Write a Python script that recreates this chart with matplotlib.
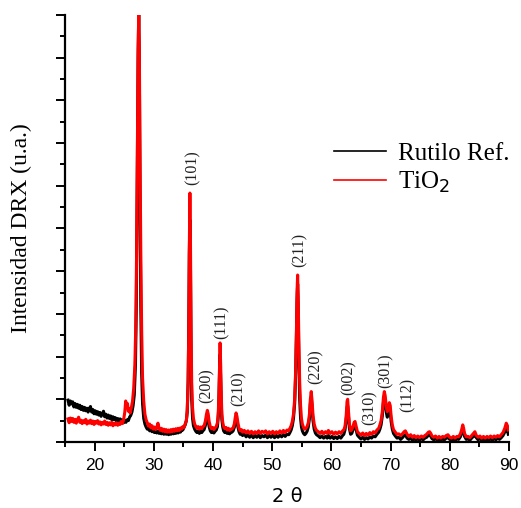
import matplotlib
matplotlib.use('Agg')
import matplotlib.pyplot as plt
from matplotlib.ticker import MultipleLocator, NullFormatter

rutilo_ref = [
    (15.5,9.8),(15.7,8.6),(15.9,9.6),(16.1,8.9),(16.3,9.4),(16.5,8.2),(16.7,9.0),(16.9,8.1),
    (17.1,8.8),(17.3,7.9),(17.5,8.6),(17.7,7.6),(17.9,8.3),(18.1,7.4),(18.3,8.1),(18.5,7.3),
    (18.7,7.9),(18.9,7.0),(19.1,7.8),(19.3,8.3),(19.5,7.0),(19.7,7.6),(19.9,6.6),(20.1,7.3),
    (20.3,6.5),(20.5,7.1),(20.7,6.3),(20.9,6.9),(21.1,6.0),(21.3,6.6),(21.5,7.2),(21.7,5.9),
    (21.9,6.5),(22.1,5.6),(22.3,6.3),(22.5,5.5),(22.7,6.1),(22.9,5.2),(23.1,5.9),(23.3,5.2),
    (23.5,5.7),(23.7,4.9),(23.9,5.5),(24.1,4.8),(24.3,5.4),(24.5,4.6),(24.7,5.2),(24.9,4.5),
    (25.1,5.1),(25.3,4.6),(25.5,5.2),(25.7,5.0),(25.9,5.8),(26.1,6.2),(26.3,7.0),(26.5,8.5),
    (26.7,11),(26.9,18),(27.05,32),(27.2,60),(27.35,90),(27.45,100),(27.55,90),(27.65,62),
    (27.8,32),(27.95,16),(28.1,9),(28.3,5.5),(28.5,4.2),(28.7,3.5),(28.9,3.0),(29.1,3.3),
    (29.3,2.6),(29.5,3.0),(29.7,2.4),(29.9,2.8),(30.1,2.2),(30.3,2.7),(30.5,2.1),(30.7,2.6),
    (30.9,2.0),(31.1,2.5),(31.3,1.9),(31.5,2.4),(31.7,1.8),(31.9,2.3),(32.1,1.8),(32.3,2.3),
    (32.5,1.7),(32.7,2.2),(32.9,1.8),(33.1,2.3),(33.3,1.9),(33.5,2.4),(33.7,2.0),(33.9,2.5),
    (34.1,2.1),(34.3,2.6),(34.5,2.3),(34.7,2.8),(34.9,2.8),(35.1,3.4),(35.3,4.0),(35.5,5.0),
    (35.65,7),(35.8,14),(35.9,26),(36.0,44),(36.1,52),(36.2,40),(36.3,20),(36.4,10),
    (36.55,5.5),(36.7,3.8),(36.9,3.0),(37.1,2.5),(37.3,2.2),(37.5,2.6),(37.7,2.0),(37.9,2.5),
    (38.1,2.2),(38.3,2.6),(38.5,2.9),(38.7,3.8),(38.9,5.2),(39.05,5.9),(39.2,5.0),(39.35,3.6),
    (39.55,2.6),(39.75,2.2),(39.95,2.5),(40.15,2.1),(40.35,2.5),(40.55,2.8),(40.75,3.6),(40.9,6),
    (41.0,10),(41.1,16),(41.2,20.5),(41.3,15),(41.4,9),(41.5,5.2),(41.65,3.5),(41.8,2.6),
    (42.0,2.2),(42.2,2.5),(42.4,2.0),(42.6,2.3),(42.8,1.9),(43.0,2.2),(43.2,2.3),(43.4,2.6),
    (43.6,3.4),(43.75,4.6),(43.9,5.5),(44.05,4.9),(44.2,3.6),(44.4,2.4),(44.6,1.8),(44.8,2.1),
    (45.0,1.5),(45.3,1.9),(45.6,1.2),(45.9,1.7),(46.2,1.1),(46.5,1.6),(46.8,1.0),(47.1,1.5),
    (47.4,1.1),(47.7,1.6),(48.0,1.0),(48.3,1.5),(48.6,1.2),(48.9,1.6),(49.2,1.0),(49.5,1.5),
    (49.8,1.1),(50.1,1.6),(50.4,1.0),(50.7,1.5),(51.0,1.1),(51.3,1.6),(51.6,1.2),(51.9,1.7),
    (52.2,1.3),(52.5,1.8),(52.8,1.7),(53.0,2.2),(53.2,2.8),(53.4,3.8),(53.6,5.5),(53.8,9),
    (53.95,15),(54.1,25),(54.2,33),(54.3,37),(54.4,31),(54.5,20),(54.65,10),(54.8,5.5),
    (54.95,3.5),(55.1,2.6),(55.3,2.0),(55.5,1.7),(55.7,2.0),(55.9,2.5),(56.1,3.5),(56.3,5.5),
    (56.45,9),(56.6,10.5),(56.75,8),(56.9,5),(57.1,3.0),(57.3,2.1),(57.5,1.7),(57.8,1.4),
    (58.1,1.0),(58.4,1.4),(58.7,0.9),(59.0,1.3),(59.3,0.9),(59.5,1.5),(59.8,0.9),(60.1,1.3),
    (60.4,0.8),(60.7,1.2),(61.0,0.8),(61.3,1.3),(61.6,0.9),(61.9,1.5),(62.1,1.8),(62.3,2.8),
    (62.5,5.0),(62.65,8.0),(62.75,8.5),(62.9,6.0),(63.05,3.2),(63.25,1.8),(63.45,2.0),(63.65,2.8),
    (63.85,3.8),(64.0,4.0),(64.2,2.8),(64.4,1.6),(64.7,1.1),(65.0,0.7),(65.3,1.1),(65.6,0.6),
    (65.9,1.0),(66.2,0.7),(66.5,1.2),(66.8,0.9),(67.1,1.4),(67.4,1.2),(67.7,1.8),(68.0,2.3),
    (68.2,3.0),(68.4,4.0),(68.6,6.0),(68.8,9.2),(68.95,10.5),(69.1,9.5),(69.3,6.8),(69.45,5.8),
    (69.6,6.5),(69.8,8.0),(69.95,7.2),(70.1,4.8),(70.3,3.0),(70.5,2.0),(70.8,1.4),(71.1,0.9),
    (71.4,1.1),(71.7,0.6),(72.0,1.0),(72.3,1.5),(72.5,1.7),(72.8,0.9),(73.1,0.6),(73.4,0.9),
    (73.7,0.4),(74.0,0.8),(74.3,0.4),(74.6,0.8),(74.9,0.4),(75.2,0.8),(75.5,0.5),(75.8,0.9),
    (76.1,1.1),(76.4,1.6),(76.6,1.8),(76.8,1.3),(77.0,0.8),(77.3,0.5),(77.6,0.8),(77.9,0.4),
    (78.2,0.7),(78.5,0.4),(78.8,0.7),(79.1,0.5),(79.4,0.9),(79.7,1.0),(80.0,0.6),(80.3,0.4),
    (80.6,0.7),(80.9,0.4),(81.2,0.7),(81.5,0.6),(81.8,1.2),(82.0,2.0),(82.2,3.0),(82.35,2.4),
    (82.5,1.3),(82.8,0.6),(83.1,0.7),(83.4,0.4),(83.7,0.9),(84.0,1.3),(84.25,1.7),(84.5,1.0),
    (84.8,0.5),(85.1,0.8),(85.4,0.4),(85.7,0.7),(86.0,0.4),(86.3,0.7),(86.6,0.4),(86.9,0.8),
    (87.2,0.4),(87.5,0.8),(87.8,0.5),(88.1,0.9),(88.4,0.6),(88.7,1.0),(89.0,1.5),(89.3,2.3),
    (89.55,3.0),(89.75,2.6),(89.9,1.8),
]

tio2 = [
    (15.5,5.4),(15.7,4.5),(15.9,5.6),(16.1,4.8),(16.3,5.5),(16.5,4.6),(16.7,5.3),(16.9,4.4),
    (17.1,5.2),(17.3,5.8),(17.5,4.6),(17.7,5.1),(17.9,4.3),(18.1,5.0),(18.3,4.5),(18.5,5.3),
    (18.7,4.2),(18.9,4.9),(19.1,4.4),(19.3,5.1),(19.5,4.3),(19.7,4.9),(19.9,4.1),(20.1,4.8),
    (20.3,4.4),(20.5,5.0),(20.7,4.2),(20.9,4.7),(21.1,4.0),(21.3,4.6),(21.5,4.2),(21.7,4.9),
    (21.9,4.1),(22.1,4.6),(22.3,3.9),(22.5,4.5),(22.7,4.0),(22.9,4.6),(23.1,3.8),(23.3,4.4),
    (23.5,4.0),(23.7,4.5),(23.9,3.9),(24.1,4.4),(24.3,4.1),(24.5,4.8),(24.7,4.3),(24.9,5.2),
    (25.1,7.0),(25.25,9.6),(25.4,8.4),(25.55,9.0),(25.7,7.2),(25.85,7.8),(26.0,6.8),(26.2,8.0),
    (26.4,9.5),(26.6,12.5),(26.8,18),(26.95,27),(27.1,45),(27.25,72),(27.35,92),(27.45,100),
    (27.55,93),(27.65,72),(27.8,45),(27.95,26),(28.1,15),(28.3,9.5),(28.5,6.5),(28.7,5.2),
    (28.9,4.5),(29.1,3.7),(29.3,4.2),(29.5,3.3),(29.7,3.8),(29.9,3.0),(30.1,3.5),(30.3,2.9),
    (30.5,3.4),(30.7,4.4),(30.9,3.2),(31.1,2.7),(31.3,3.2),(31.5,2.5),(31.7,3.0),(31.9,2.4),
    (32.1,2.9),(32.3,2.3),(32.5,2.8),(32.7,2.3),(32.9,2.9),(33.1,2.4),(33.3,3.0),(33.5,2.5),
    (33.7,3.1),(33.9,2.6),(34.1,3.2),(34.3,2.7),(34.5,3.3),(34.7,3.0),(34.9,3.6),(35.1,3.4),
    (35.3,4.2),(35.5,5.0),(35.65,7.5),(35.8,14),(35.9,25),(36.0,45),(36.1,58.3),(36.2,46),
    (36.3,26),(36.4,14),(36.55,8),(36.7,5.5),(36.9,4.2),(37.1,3.6),(37.3,3.2),(37.5,3.6),
    (37.7,3.0),(37.9,3.5),(38.1,3.1),(38.3,3.6),(38.5,3.8),(38.7,4.8),(38.9,6.5),(39.05,7.4),
    (39.2,6.5),(39.35,4.8),(39.55,3.6),(39.75,3.1),(39.95,3.4),(40.15,2.9),(40.35,3.3),(40.55,3.6),
    (40.75,4.5),(40.9,7),(41.0,11),(41.1,17),(41.2,23.2),(41.3,18),(41.4,11),(41.5,6.5),
    (41.65,4.6),(41.8,3.6),(42.0,3.1),(42.2,3.4),(42.4,2.8),(42.6,3.2),(42.8,2.7),(43.0,3.0),
    (43.2,3.0),(43.4,3.3),(43.6,4.2),(43.75,5.6),(43.9,6.8),(44.05,6.0),(44.2,4.6),(44.4,3.2),
    (44.6,2.6),(44.8,2.9),(45.0,2.3),(45.3,2.7),(45.6,2.1),(45.9,2.6),(46.2,2.0),(46.5,2.5),
    (46.8,1.9),(47.1,2.4),(47.4,2.0),(47.7,2.6),(48.0,2.0),(48.3,2.5),(48.6,2.2),(48.9,2.6),
    (49.2,1.9),(49.5,2.4),(49.8,2.0),(50.1,2.5),(50.4,1.9),(50.7,2.4),(51.0,2.0),(51.3,2.6),
    (51.6,2.1),(51.9,2.7),(52.2,2.2),(52.5,2.8),(52.8,2.6),(53.0,3.2),(53.2,3.8),(53.4,4.8),
    (53.6,6.5),(53.8,10),(53.95,16),(54.1,26),(54.2,35),(54.3,39.1),(54.4,34),(54.5,24),
    (54.65,14),(54.8,8.5),(54.95,5.5),(55.1,4.2),(55.3,3.4),(55.5,3.0),(55.7,3.2),(55.9,3.6),
    (56.1,4.5),(56.3,6.5),(56.45,10),(56.6,11.8),(56.75,9.5),(56.9,6.2),(57.1,4.2),(57.3,3.2),
    (57.5,2.7),(57.8,2.4),(58.1,2.0),(58.4,2.5),(58.7,1.9),(59.0,2.4),(59.3,2.0),(59.5,2.7),
    (59.8,2.0),(60.1,2.4),(60.4,1.8),(60.7,2.3),(61.0,1.9),(61.3,2.4),(61.6,2.0),(61.9,2.6),
    (62.1,2.8),(62.3,3.6),(62.5,6.0),(62.65,9.5),(62.75,10.0),(62.9,7.2),(63.05,4.2),(63.25,2.6),
    (63.45,2.9),(63.65,3.6),(63.85,4.6),(64.0,4.8),(64.2,3.6),(64.4,2.4),(64.7,2.0),(65.0,1.6),
    (65.3,2.1),(65.6,1.5),(65.9,2.0),(66.2,1.6),(66.5,2.2),(66.8,1.8),(67.1,2.4),(67.4,2.1),
    (67.7,2.8),(68.0,3.2),(68.2,4.0),(68.4,5.0),(68.6,7.0),(68.8,10.5),(68.95,11.8),(69.1,10.8),
    (69.3,8.0),(69.45,7.1),(69.6,7.8),(69.8,9.2),(69.95,8.5),(70.1,6.0),(70.3,4.0),(70.5,2.9),
    (70.8,2.3),(71.1,1.8),(71.4,1.9),(71.7,1.5),(72.0,1.9),(72.3,2.4),(72.5,2.6),(72.8,1.8),
    (73.1,1.3),(73.4,1.7),(73.7,1.1),(74.0,1.5),(74.3,1.0),(74.6,1.4),(74.9,1.0),(75.2,1.4),
    (75.5,1.1),(75.8,1.5),(76.1,1.8),(76.4,2.3),(76.6,2.4),(76.8,2.0),(77.0,1.4),(77.3,1.1),
    (77.6,1.4),(77.9,0.9),(78.2,1.3),(78.5,0.9),(78.8,1.3),(79.1,1.1),(79.4,1.5),(79.7,1.7),
    (80.0,1.1),(80.3,0.9),(80.6,1.3),(80.9,0.9),(81.2,1.3),(81.5,1.2),(81.8,1.9),(82.0,2.8),
    (82.2,4.0),(82.35,3.2),(82.5,2.0),(82.8,1.2),(83.1,1.3),(83.4,1.0),(83.7,1.5),(84.0,2.0),
    (84.25,2.4),(84.5,1.5),(84.8,1.1),(85.1,1.4),(85.4,0.9),(85.7,1.3),(86.0,0.9),(86.3,1.3),
    (86.6,1.0),(86.9,1.4),(87.2,1.0),(87.5,1.4),(87.8,1.1),(88.1,1.5),(88.4,1.2),(88.7,1.7),
    (89.0,2.2),(89.3,3.2),(89.55,4.4),(89.75,3.8),(89.9,2.8),
]

# indices de Miller y posicion de cada etiqueta
etiquetas = ['(101)', '(200)', '(111)', '(210)', '(211)', '(220)', '(002)', '(310)', '(301)', '(112)']
etiq_x = [36.6, 39.0, 41.5, 44.4, 54.7, 57.4, 63.0, 66.4, 69.1, 72.9]
etiq_y = [64.2, 13.3, 28.1, 12.6, 45.0, 17.6, 15.0, 8.0, 16.6, 11.0]

fig = plt.figure(figsize=(5.21, 5.08), dpi=100)
ax = fig.add_axes([0.1248, 0.13, 0.852, 0.8405])

xr = [p[0] for p in rutilo_ref]
yr = [p[1] for p in rutilo_ref]
xt = [p[0] for p in tio2]
yt = [p[1] for p in tio2]

ax.plot(xr, yr, color='black', lw=2.2, label='Rutilo Ref.')
ax.plot(xt, yt, color='red', lw=2.2, label='TiO$_2$')

for t, x, y in zip(etiquetas, etiq_x, etiq_y):
    ax.text(x, y, t, rotation=90, ha='center', va='center', fontsize=11.5,
            family='Liberation Serif', color='#222222')

ax.set_xlim(15, 90)
ax.set_ylim(0, 100)
ax.xaxis.set_major_locator(MultipleLocator(10))
ax.xaxis.set_minor_locator(MultipleLocator(5))
ax.yaxis.set_major_locator(MultipleLocator(10))
ax.yaxis.set_minor_locator(MultipleLocator(5))
ax.yaxis.set_major_formatter(NullFormatter())

for s in ['top', 'right']:
    ax.spines[s].set_visible(False)
for s in ['left', 'bottom']:
    ax.spines[s].set_linewidth(1.6)

ax.tick_params(which='major', length=6.5, width=1.4, direction='out')
ax.tick_params(which='minor', length=3.5, width=1.4, direction='out')
ax.tick_params(axis='x', labelsize=12.5, pad=5)
for lab in ax.get_xticklabels():
    lab.set_family('Liberation Sans')

ax.set_ylabel('Intensidad DRX (u.a.)', fontsize=17, family='Liberation Serif', labelpad=14)
ax.set_xlabel('2 θ', fontsize=14, family='DejaVu Sans', labelpad=10)

leg = ax.legend(loc='center left', bbox_to_anchor=(0.641, 0.668), bbox_transform=fig.transFigure,
                frameon=False, prop={'family': 'Liberation Serif', 'size': 18},
                handlelength=2.1, handletextpad=0.45, labelspacing=0.2, borderpad=0, borderaxespad=0)
for ln in leg.get_lines():
    ln.set_linewidth(1.2)

fig.savefig('out.png', dpi=100)
